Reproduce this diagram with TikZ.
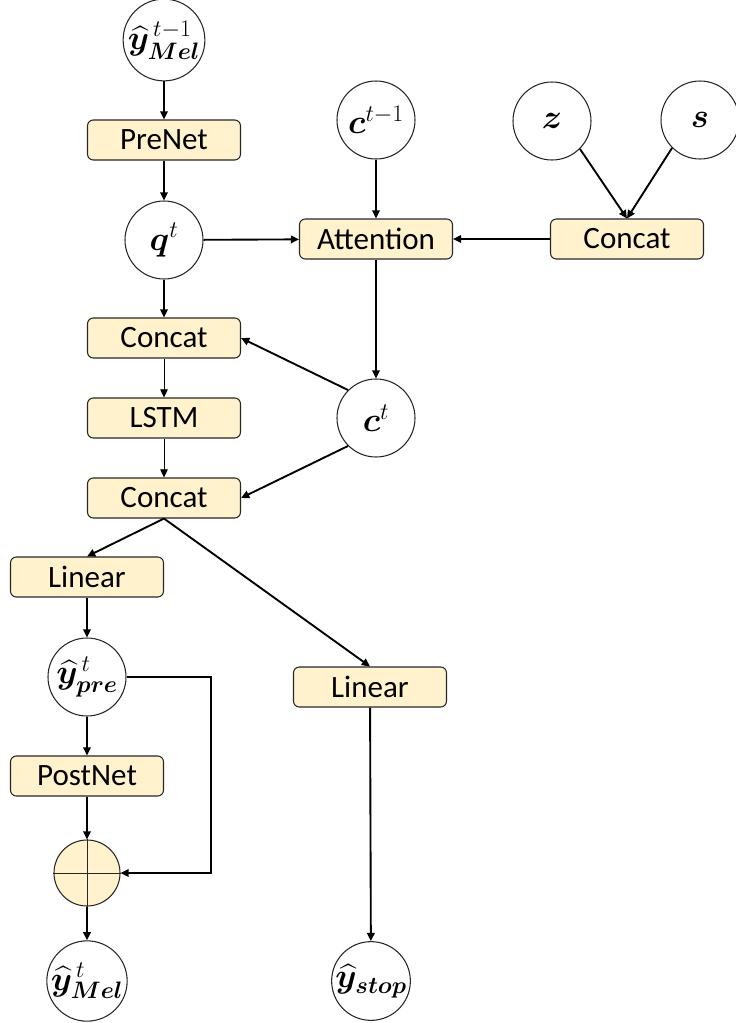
\documentclass[tikz,border=0pt]{standalone}
\usepackage{fix-cm}
\usepackage{amsmath,bm}
\usepackage{fontspec}
\newfontfamily\boxfont{Carlito}
\usepackage{tikz}
\usetikzlibrary{positioning, shapes, arrows, calc}
\definecolor{decBox}{HTML}{FFF2CC}
\definecolor{decLine}{HTML}{262626}
\usetikzlibrary{arrows.meta}

\begin{document}
\begin{tikzpicture}[
  x=0.03cm, y=-0.03cm,
  n/.style={draw=decLine, circle, line width=0.9pt, minimum size=2.34cm, inner sep=0pt, font=\fontsize{29}{32}\selectfont},
  blk/.style={draw=decLine, fill=decBox, rounded corners=5pt, line width=0.9pt, minimum width=4.59cm, minimum height=1.2cm, inner sep=0pt, font=\boxfont\fontsize{26.5}{30}\selectfont},
  addn/.style={draw=decLine, fill=decBox, circle, line width=0.9pt, minimum size=1.98cm, inner sep=0pt},
  arr/.style={-{Triangle[length=7pt,width=6.5pt]}, line width=1.6pt},
  tarr/.style={-{Triangle[length=7pt,width=6.5pt]}, line width=0.8pt}
]
\useasboundingbox (0,0) rectangle (736,1023);

% left column
\node[n] (yprev) at (164,40) {$\bm{\widehat{y}}^{\,t-1}_{\bm{Mel}}$};
\node[blk] (pre) at (164,140) {PreNet};
\node[n] (q) at (164,240) {$\bm{q}^{t}$};
\node[blk] (cat1) at (164,338) {Concat};
\node[blk] (lstm) at (164,418) {LSTM};
\node[blk] (cat2) at (164,498) {Concat};

% attention part
\node[n] (cprev) at (376,120) {$\bm{c}^{t-1}$};
\node[blk] (att) at (376,239) {Attention};
\node[n] (ct) at (376,418) {$\bm{c}^{t}$};
\node[n] (z) at (552,121) {$\bm{z}$};
\node[n] (s) at (700,120) {$\bm{s}$};
\node[blk] (cat3) at (627,239) {Concat};

% outputs
\node[blk] (lin1) at (87,577) {Linear};
\node[n] (ypre) at (87,677) {$\bm{\widehat{y}}^{\,t}_{\bm{pre}}$};
\node[blk] (post) at (87,776) {PostNet};
\node[addn] (add) at (87,873) {};
\node[n] (ymel) at (87,981) {$\bm{\widehat{y}}^{\,t}_{\bm{Mel}}$};
\node[blk] (lin2) at (370,687) {Linear};
\node[n] (ystop) at (371,981) {$\bm{\widehat{y}}_{\bm{stop}}$};
\coordinate (fb) at (211,677);

\draw[line width=0.8pt, draw=decLine] (add.north) -- (add.south) (add.west) -- (add.east);

\draw[arr] (yprev) -- (pre);
\draw[arr] (pre) -- (q);
\draw[arr] (q) -- (cat1);
\draw[arr] (q) -- (att);
\draw[arr] (cprev) -- (att);
\draw[arr] (z.-45) -- (cat3.north);
\draw[arr] (s.-135) -- (cat3.north);
\draw[arr] (cat3) -- (att);
\draw[arr] (att) -- (ct);
\draw[arr] (ct.135) -- (cat1.east);
\draw[arr] (ct.225) -- (cat2.east);
\draw[tarr] (cat1) -- (lstm);
\draw[tarr] (lstm) -- (cat2);
\draw[arr] (cat2.south) -- (lin1.north);
\draw[arr] (cat2.south) -- (lin2.north);
\draw[arr] (lin1) -- (ypre);
\draw[arr] (ypre) -- (post);
\draw[arr] (post) -- (add);
\draw[arr] (add) -- (ymel);
\draw[arr] (ypre.east) -- (fb) |- (add.east);
\draw[arr] (lin2) -- (ystop);
\end{tikzpicture}
\end{document}
